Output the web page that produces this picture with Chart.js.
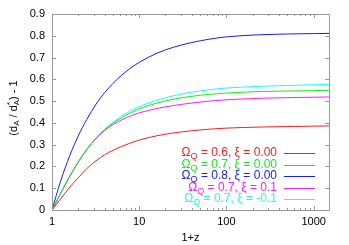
<!DOCTYPE html>
<html><head><meta charset="utf-8">
<script src="https://cdn.jsdelivr.net/npm/chart.js@4/dist/chart.umd.min.js"></script>
<style>html,body{margin:0;padding:0;background:#fff}#w{width:349px;height:245px}</style>
</head><body><div id="w"><canvas id="c"></canvas></div>
<script>
const onePlusZ   = [1, 1.25, 1.6, 2, 2.5, 3.2, 4, 5, 6.3, 8, 10, 16, 25, 40, 63, 100, 250, 1000, 1500];
const omega06    = [0, 0.05, 0.105, 0.148, 0.19, 0.226, 0.253, 0.274, 0.292, 0.308, 0.321, 0.341, 0.354, 0.364, 0.371, 0.376, 0.381, 0.385, 0.386];
const omega07    = [0, 0.075, 0.155, 0.22, 0.278, 0.330, 0.368, 0.398, 0.424, 0.446, 0.464, 0.491, 0.509, 0.522, 0.531, 0.537, 0.544, 0.548, 0.55];
const omega08    = [0, 0.13, 0.25, 0.34, 0.415, 0.486, 0.538, 0.581, 0.619, 0.652, 0.678, 0.72, 0.748, 0.769, 0.784, 0.795, 0.805, 0.81, 0.811];
const omega07xiP = [0, 0.075, 0.155, 0.22, 0.277, 0.328, 0.364, 0.392, 0.414, 0.432, 0.446, 0.466, 0.480, 0.491, 0.500, 0.506, 0.513, 0.518, 0.519];
const omega07xiM = [0, 0.075, 0.155, 0.22, 0.278, 0.331, 0.370, 0.402, 0.431, 0.455, 0.474, 0.504, 0.525, 0.541, 0.552, 0.560, 0.568, 0.575, 0.577];
const xTicks = [1, 10, 100, 1000];
const yTicks = [0, 0.1, 0.2, 0.3, 0.4, 0.5, 0.6, 0.7, 0.8, 0.9];
const seriesLabels = [
  ['0.6', '0.00'], ['0.7', '0.00'], ['0.8', '0.00'], ['0.7', '0.1'], ['0.7', '-0.1']
];
const seriesColors = ['#ff1a1a', '#11ee11', '#1a1aff', '#ff1aff', '#11ffff'];
const seriesValues = [omega06, omega07, omega08, omega07xiP, omega07xiM];

const FONT = '"Liberation Sans", Arial, sans-serif';

const datasets = seriesValues.map((vals, i) => ({
  label: 'ΩQ = ' + seriesLabels[i][0] + ', ξ = ' + seriesLabels[i][1],
  data: onePlusZ.map((x, j) => ({x: x, y: vals[j]})),
  borderColor: seriesColors[i],
  borderWidth: 1,
  pointRadius: 0,
  fill: false,
  cubicInterpolationMode: 'monotone'
}));

const framePlugin = {
  id: 'frame',
  afterDraw(chart) {
    const ctx = chart.ctx, a = chart.chartArea;
    const xs = chart.scales.x, ys = chart.scales.y;
    ctx.save();
    ctx.strokeStyle = '#999';
    ctx.lineWidth = 1;
    ctx.beginPath();
    ctx.rect(Math.round(a.left) + 0.5, Math.round(a.top) + 0.5, Math.round(a.right - a.left), Math.round(a.bottom - a.top));
    ctx.stroke();
    ctx.beginPath();
    yTicks.forEach(v => {
      const y = Math.round(ys.getPixelForValue(v)) + 0.5;
      ctx.moveTo(a.left, y); ctx.lineTo(a.left + 4, y);
      ctx.moveTo(a.right, y); ctx.lineTo(a.right - 4, y);
    });
    for (let d = 1; d <= 1000; d *= 10) {
      for (let m = 1; m <= 9; m++) {
        const v = d * m;
        if (v > xs.max) break;
        const x = Math.round(xs.getPixelForValue(v)) + 0.5;
        const len = m === 1 ? 4 : 2;
        ctx.moveTo(x, a.bottom); ctx.lineTo(x, a.bottom - len);
        ctx.moveTo(x, a.top); ctx.lineTo(x, a.top + len);
      }
    }
    ctx.stroke();

    // legend
    const rowY = [153, 164.5, 176, 187.5, 199];
    const textRight = 277, lineL = 284, lineR = 315;
    seriesLabels.forEach((lab, i) => {
      const y = rowY[i];
      ctx.fillStyle = seriesColors[i];
      ctx.textBaseline = 'middle';
      const p1 = 'Ω', sub = 'Q', p2 = ' = ' + lab[0] + ', ξ = ' + lab[1];
      ctx.font = '12px ' + FONT;
      const w1 = ctx.measureText(p1).width, w2 = ctx.measureText(p2).width;
      ctx.font = '9px ' + FONT;
      const ws = ctx.measureText(sub).width;
      let x = textRight - w1 - ws - w2;
      ctx.font = '12px ' + FONT;
      ctx.textAlign = 'left';
      ctx.fillText(p1, x, y); x += w1;
      ctx.font = '9px ' + FONT;
      ctx.fillText(sub, x, y + 4); x += ws;
      ctx.font = '12px ' + FONT;
      ctx.fillText(p2, x, y);
      ctx.strokeStyle = seriesColors[i];
      ctx.beginPath();
      ctx.moveTo(lineL, Math.round(y) + 0.5); ctx.lineTo(lineR, Math.round(y) + 0.5);
      ctx.stroke();
    });

    // axis titles
    ctx.fillStyle = '#000';
    ctx.font = '11px ' + FONT;
    ctx.textAlign = 'center';
    ctx.textBaseline = 'middle';
    ctx.fillText('1+z', (a.left + a.right) / 2, 238);

    ctx.translate(14, 108);
    ctx.rotate(-Math.PI / 2);
    const parts = [
      ['(d', 11, 0], ['A', 8, 3], [' / d', 11, 0], ['*', 8, -4], ['A', 8, 3], [') - 1', 11, 0]
    ];
    const widths = parts.map(p => { ctx.font = p[1] + 'px ' + FONT; return ctx.measureText(p[0]).width; });
    const total = widths[0] + widths[1] + widths[2] + Math.max(widths[3], widths[4]) + widths[5];
    let x = -total / 2;
    ctx.textAlign = 'left';
    const draw = (k) => { ctx.font = parts[k][1] + 'px ' + FONT; ctx.fillText(parts[k][0], x, parts[k][2]); };
    draw(0); x += widths[0];
    draw(1); x += widths[1];
    draw(2); x += widths[2];
    draw(3); draw(4); x += Math.max(widths[3], widths[4]);
    draw(5);
    ctx.restore();
  }
};

new Chart(document.getElementById('c'), {
  type: 'line',
  data: { datasets },
  options: {
    responsive: true,
    maintainAspectRatio: false,
    animation: false,
    layout: { padding: { top: 14, right: 20, left: 0, bottom: 0 } },
    plugins: { legend: { display: false }, tooltip: { enabled: false } },
    scales: {
      x: {
        type: 'logarithmic',
        min: 1, max: 1500,
        afterBuildTicks: s => { s.ticks = xTicks.map(v => ({value: v})); },
        afterFit: s => { s.height = 35; },
        grid: { display: false, drawTicks: false },
        border: { display: false },
        ticks: { color: '#000', font: { family: FONT, size: 11 }, padding: 5, maxRotation: 0,
          callback: v => String(v) }
      },
      y: {
        type: 'linear',
        min: 0, max: 0.9,
        afterBuildTicks: s => { s.ticks = yTicks.map(v => ({value: v})); },
        afterFit: s => { s.width = 52; },
        grid: { display: false, drawTicks: false },
        border: { display: false },
        ticks: { color: '#000', font: { family: FONT, size: 11 }, padding: 7,
          callback: v => v === 0 ? '0' : Number(v).toFixed(1) }
      }
    }
  },
  plugins: [framePlugin]
});
</script>
</body></html>
